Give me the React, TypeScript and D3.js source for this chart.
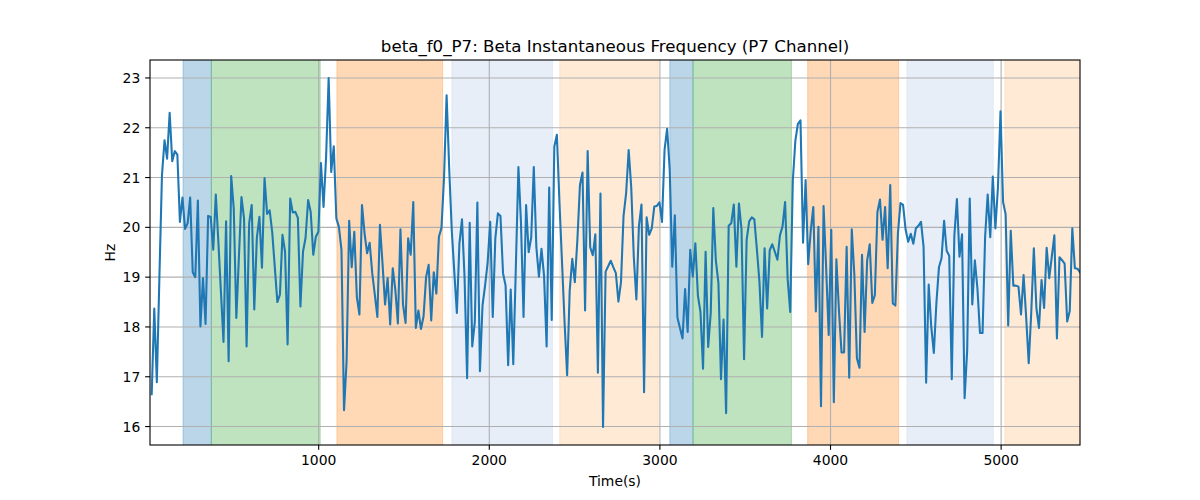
import React from "react";
import * as d3 from "d3";

// ---- data ----
const TITLE = "beta_f0_P7: Beta Instantaneous Frequency (P7 Channel)";
const X_LABEL = "Time(s)";
const Y_LABEL = "Hz";
const TIME_START = 21.4; // seconds, first sample
const TIME_STEP = 15.03; // seconds between samples
const X_MIN = 11.4; // axis lower limit (seconds)

const betaHz: number[] = [
  16.65, 18.37, 16.89, 19.0, 21.05, 21.75, 21.38, 22.3, 21.33, 21.53,
  21.46, 20.11, 20.6, 19.97, 20.08, 20.6, 19.1, 19.0, 20.54, 18.01,
  18.98, 18.06, 20.23, 20.21, 19.55, 20.66, 19.7, 18.7, 17.7, 20.12,
  17.31, 21.03, 20.37, 18.18, 19.4, 20.61, 20.18, 17.61, 20.08, 20.45,
  18.35, 19.79, 20.21, 19.19, 20.99, 20.27, 20.34, 19.9, 19.2, 18.5,
  18.65, 19.85, 19.51, 17.65, 20.58, 20.3, 20.31, 20.19, 18.41, 19.51,
  19.79, 20.55, 20.31, 19.45, 19.81, 19.91, 21.29, 20.41, 21.4, 23.0,
  21.11, 21.63, 20.18, 20.01, 19.55, 16.33, 17.31, 20.13, 19.2, 19.91,
  18.6, 18.25, 20.45, 19.88, 19.48, 19.69, 19.08, 18.65, 18.2, 20.05,
  19.28, 18.45, 18.98, 18.05, 19.18, 18.75, 18.07, 19.96, 18.45, 18.08,
  19.78, 19.45, 20.51, 17.98, 18.33, 17.96, 18.21, 19.0, 19.25, 18.13,
  19.1, 18.67, 19.81, 19.99, 21.0, 22.65, 21.2, 19.95, 19.1, 18.28,
  19.68, 20.16, 19.0, 16.97, 20.09, 17.61, 18.1, 20.5, 17.11, 18.43,
  18.83, 19.29, 20.11, 18.2, 19.78, 20.28, 20.23, 19.08, 18.83, 17.23,
  18.75, 17.25, 19.2, 21.21, 20.1, 18.2, 20.45, 19.5, 19.8, 21.21,
  19.6, 19.01, 19.57, 19.03, 17.61, 20.8, 18.14, 21.62, 21.86, 20.51,
  19.31, 18.1, 17.03, 18.73, 19.37, 18.9, 19.75, 20.85, 21.1, 18.33,
  21.53, 19.6, 19.44, 19.86, 17.08, 20.68, 15.99, 19.11, 19.22, 19.33,
  19.2, 19.08, 18.51, 18.9, 20.23, 20.68, 21.55, 20.8, 19.4, 18.55,
  20.03, 20.46, 16.69, 20.2, 19.85, 19.98, 20.42, 20.43, 20.5, 20.11,
  21.56, 21.98, 21.16, 19.21, 20.24, 18.19, 17.98, 17.77, 18.76, 17.9,
  19.55, 19.01, 19.68, 18.63, 18.3, 17.16, 19.51, 17.6, 18.28, 20.39,
  19.33, 18.88, 16.95, 18.15, 16.27, 20.03, 20.08, 20.46, 19.21, 20.48,
  19.96, 17.35, 19.75, 20.12, 20.2, 20.16, 19.56, 18.9, 17.8, 19.58,
  18.37, 19.54, 19.66, 19.51, 19.35, 19.84, 20.02, 20.51, 18.96, 18.3,
  20.93, 21.74, 22.08, 22.15, 19.69, 20.95, 19.26, 19.93, 20.41, 18.31,
  20.01, 16.41, 20.43, 19.2, 17.84, 19.95, 16.49, 19.36, 18.33, 17.49,
  17.49, 19.61, 16.98, 19.96, 19.05, 17.37, 17.18, 19.45, 17.9, 19.33,
  19.66, 18.48, 18.64, 20.31, 20.56, 19.75, 20.41, 19.18, 20.85, 18.47,
  18.43, 19.88, 20.49, 20.45, 19.95, 19.71, 19.87, 19.67, 19.98, 20.03,
  20.11, 19.61, 16.88, 18.85, 18.0, 17.48, 18.48, 19.2, 19.38, 20.13,
  19.53, 19.43, 16.95, 19.83, 20.57, 19.41, 19.86, 16.57, 17.53, 20.58,
  18.45, 19.34, 18.77, 17.88, 17.88, 19.81, 20.66, 19.8, 21.02, 19.98,
  20.8, 22.33, 20.51, 20.26, 18.03, 19.93, 18.83, 18.83, 18.81, 18.25,
  19.04, 18.2, 17.27, 18.3, 19.58, 18.38, 17.98, 18.94, 18.38, 19.59,
  18.98, 19.41, 19.84, 17.77, 19.4, 19.34, 19.27, 18.11, 18.32, 19.98,
  19.18, 19.17, 19.1,
];

// shaded phases (seconds)
const phaseStart = [205, 371, 1107, 1781, 2413, 3058, 3194, 3866, 4448, 5022];
const phaseEnd = [371, 1009, 1726, 2370, 2990, 3194, 3771, 4399, 4954, 5500];
const phaseColor = [
  "#1f77b4", "#2ca02c", "#ff7f0e", "#aec7e8", "#ffbb78",
  "#1f77b4", "#2ca02c", "#ff7f0e", "#aec7e8", "#ffbb78",
];

const xTicks = [1000, 2000, 3000, 4000, 5000];
const yTicks = [16, 17, 18, 19, 20, 21, 22, 23];

export default function App() {
  const W = 1200, H = 500;
  const left = 150, right = 1080, top = 60, bottom = 445;
  const pts = betaHz.map((v, i) => ({ t: TIME_START + i * TIME_STEP, v }));
  const tMax = TIME_START + (betaHz.length - 1) * TIME_STEP;
  const vMin = d3.min(betaHz)!, vMax = d3.max(betaHz)!;
  const pad = (vMax - vMin) * 0.05;
  const x = d3.scaleLinear().domain([X_MIN, tMax]).range([left, right]);
  const y = d3.scaleLinear().domain([vMin - pad - 0.01, vMax + pad + 0.01]).range([bottom, top]);
  const line = d3
    .line<{ t: number; v: number }>()
    .x((d) => x(d.t))
    .y((d) => y(d.v));
  const font = "'DejaVu Sans', sans-serif";
  const tickLen = 4.86;

  return (
    <svg
      width={W}
      height={H}
      style={{ position: "fixed", left: 0, top: 0, background: "#fff" }}
      fontFamily={font}
    >
      <defs>
        <clipPath id="plotclip">
          <rect x={left} y={top} width={right - left} height={bottom - top} />
        </clipPath>
      </defs>
      <rect x={0} y={0} width={W} height={H} fill="#fff" />
      <g clipPath="url(#plotclip)">
        {phaseStart.map((s, i) => (
          <rect
            key={i}
            x={x(s)}
            y={top - 2}
            width={x(phaseEnd[i]) - x(s)}
            height={bottom - top + 4}
            fill={phaseColor[i]}
            fillOpacity={0.3}
            stroke={phaseColor[i]}
            strokeOpacity={0.3}
            strokeWidth={1}
          />
        ))}
        {xTicks.map((t) => (
          <line key={"gx" + t} x1={x(t)} x2={x(t)} y1={top} y2={bottom} stroke="#b0b0b0" strokeWidth={1.1} />
        ))}
        {yTicks.map((t) => (
          <line key={"gy" + t} x1={left} x2={right} y1={y(t)} y2={y(t)} stroke="#b0b0b0" strokeWidth={1.1} />
        ))}
        <path d={line(pts) || ""} fill="none" stroke="#1f77b4" strokeWidth={2.08} strokeLinejoin="round" strokeLinecap="square" />
      </g>
      <rect x={left} y={top} width={right - left} height={bottom - top} fill="none" stroke="#000" strokeWidth={1.1} />
      {xTicks.map((t) => (
        <g key={"tx" + t}>
          <line x1={x(t)} x2={x(t)} y1={bottom} y2={bottom + tickLen} stroke="#000" strokeWidth={1.1} />
          <text x={x(t)} y={bottom + tickLen + 4.86} dy="0.76em" textAnchor="middle" fontSize={13.9} fill="#000">
            {t}
          </text>
        </g>
      ))}
      {yTicks.map((t) => (
        <g key={"ty" + t}>
          <line x1={left - tickLen} x2={left} y1={y(t)} y2={y(t)} stroke="#000" strokeWidth={1.1} />
          <text x={left - tickLen - 4.86} y={y(t)} dy="0.36em" textAnchor="end" fontSize={13.9} fill="#000">
            {t}
          </text>
        </g>
      ))}
      <text x={(left + right) / 2} y={52} textAnchor="middle" fontSize={16.67} fill="#000">
        {TITLE}
      </text>
      <text x={(left + right) / 2} y={486} textAnchor="middle" fontSize={13.9} fill="#000">
        {X_LABEL}
      </text>
      <text transform={`translate(115,${(top + bottom) / 2}) rotate(-90)`} textAnchor="middle" fontSize={13.9} fill="#000">
        {Y_LABEL}
      </text>
    </svg>
  );
}
